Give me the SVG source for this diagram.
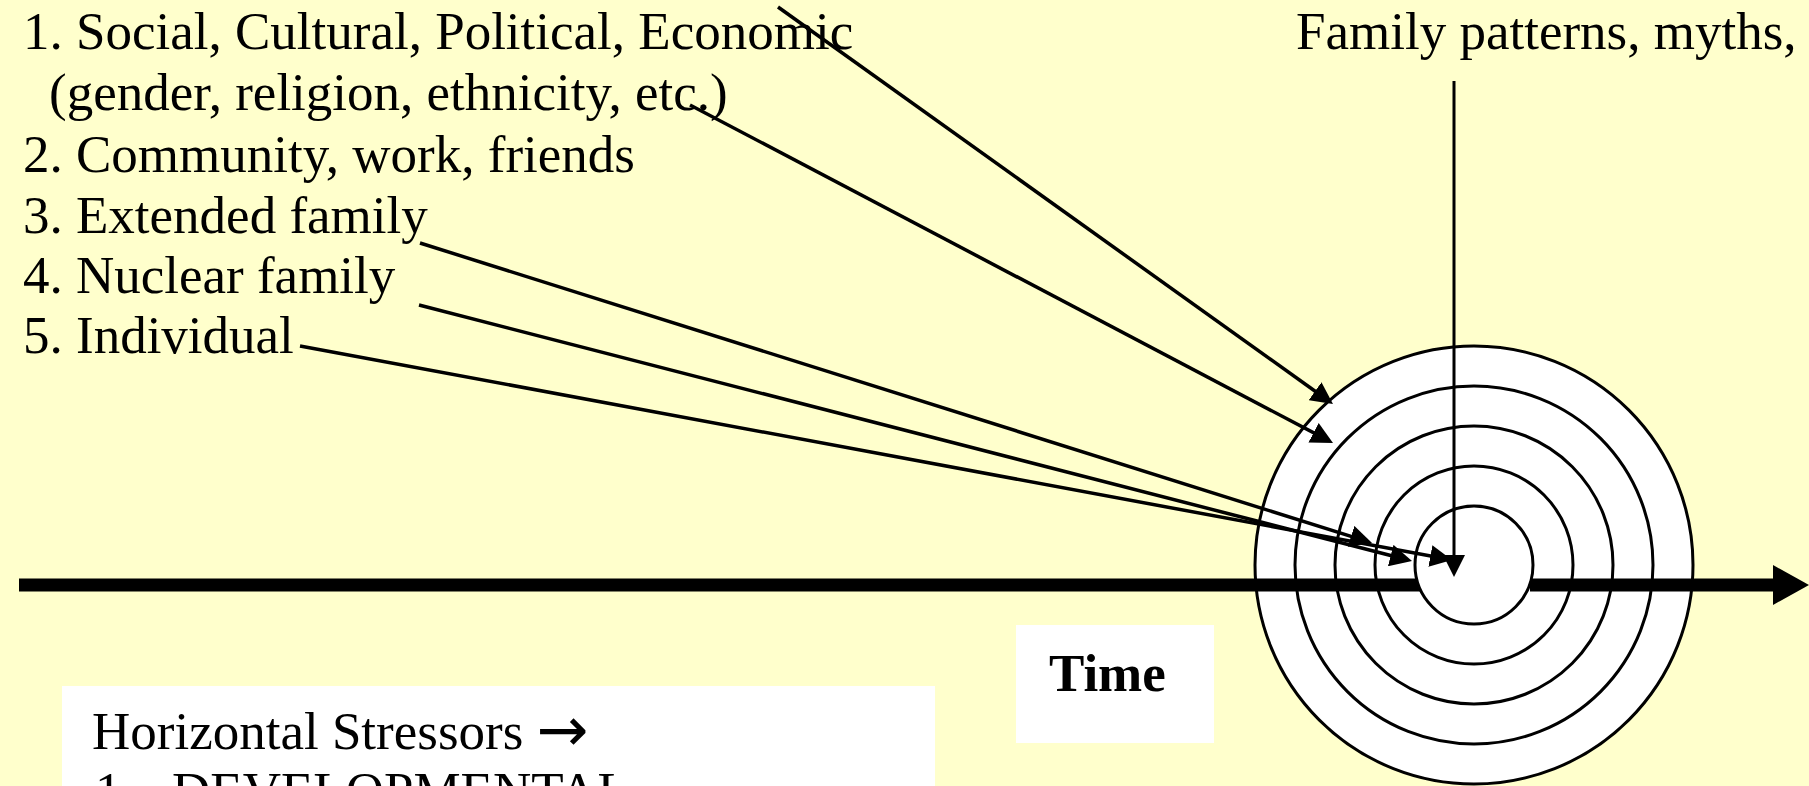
<svg xmlns="http://www.w3.org/2000/svg" width="1809" height="786" viewBox="0 0 1809 786">
  <defs>
    <style>
      .t { font-family: "Liberation Serif", "Times New Roman", serif; font-size: 53px; fill: #000; }
      .b { font-weight: bold; }
      .arr { font-family: "DejaVu Sans", sans-serif; font-size: 62px; }
      .ring { fill: #fff; stroke: #000; stroke-width: 3; }
      .conn { stroke: #000; stroke-width: 3.5; fill: none; marker-end: url(#ah); }
      .vconn { stroke: #000; stroke-width: 3; fill: none; marker-end: url(#ah); }
      .axis { stroke: #000; stroke-width: 13; fill: none; }
      .box { fill: #fff; stroke: none; }
    </style>
    <marker id="ah" markerUnits="userSpaceOnUse" markerWidth="22" markerHeight="22" refX="10" refY="11" orient="auto">
      <path d="M0,0 L22,11 L0,22 z" fill="#000"/>
    </marker>
  </defs>

  <rect x="0" y="0" width="1809" height="786" fill="#ffffcc"/>

  <g id="vertical-stressors">
    <text class="t" x="23" y="49">1. Social, Cultural, Political, Economic</text>
    <text class="t" x="49" y="110">(gender, religion, ethnicity, etc.)</text>
    <text class="t" x="23" y="172">2. Community, work, friends</text>
    <text class="t" x="23" y="233">3. Extended family</text>
    <text class="t" x="23" y="293">4. Nuclear family</text>
    <text class="t" x="23" y="353">5. Individual</text>
  </g>

  <g id="family-patterns">
    <text class="t" x="1296" y="49">Family patterns, myths,</text>
  </g>

  <g id="target">
    <circle class="ring" cx="1474" cy="565" r="219"/>
    <circle class="ring" cx="1474" cy="565" r="179"/>
    <circle class="ring" cx="1474" cy="565" r="139"/>
    <circle class="ring" cx="1474" cy="565" r="99"/>
  </g>

  <g id="time-axis">
    <line class="axis" x1="19" y1="585" x2="1420" y2="585"/>
    <line class="axis" x1="1530" y1="585" x2="1775" y2="585"/>
    <path d="M1773,565 L1809,585 L1773,605 z" fill="#000"/>
  </g>

  <g id="target-core">
    <circle class="ring" cx="1474" cy="565" r="59"/>
  </g>

  <g id="time-label">
    <rect class="box" x="1016" y="625" width="198" height="118"/>
    <text class="t b" x="1049" y="691">Time</text>
  </g>

  <g id="horizontal-stressors">
    <rect class="box" x="62" y="686" width="873" height="110"/>
    <text class="t" x="92" y="749">Horizontal Stressors <tspan class="arr" dy="2">→</tspan></text>
    <text class="t" x="95" y="809">1.</text>
    <text class="t" x="172" y="809">DEVELOPMENTAL</text>
  </g>

  <g id="connectors">
    <line class="conn" x1="778" y1="7" x2="1323.2" y2="397"/>
    <line class="conn" x1="690" y1="105" x2="1322.4" y2="437.4"/>
    <line class="conn" x1="420" y1="243" x2="1360.6" y2="539.4"/>
    <line class="conn" x1="419" y1="305" x2="1400.4" y2="558"/>
    <line class="conn" x1="300" y1="346" x2="1440.2" y2="557.8"/>
    <line class="vconn" x1="1454" y1="81" x2="1454" y2="565"/>
  </g>
</svg>
